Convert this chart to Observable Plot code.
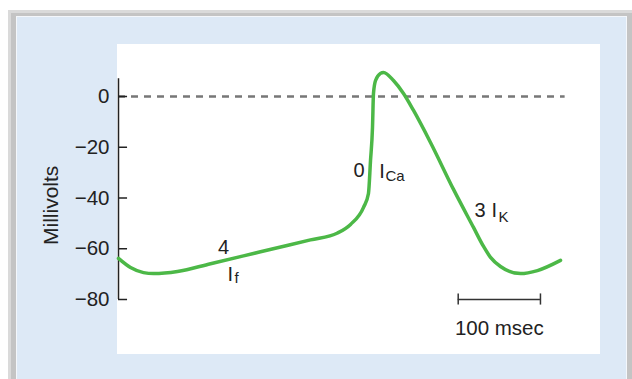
<!DOCTYPE html>
<html><head><meta charset="utf-8">
<script src="https://cdn.jsdelivr.net/npm/d3@7"></script>
<script src="https://cdn.jsdelivr.net/npm/@observablehq/plot@0.6"></script>
<style>
html,body{margin:0;padding:0;background:#fff;width:632px;height:379px;overflow:hidden;}
#frame{position:absolute;left:8px;top:10px;width:624px;height:380px;box-sizing:border-box;background:#c4c4c4;border-left:3px solid #dadada;border-top:3px solid #dadada;}
#panel{position:absolute;left:16px;top:16px;width:611px;height:372px;box-sizing:border-box;border:1px solid #f4f7fb;background:#dde9f6;}
#white{position:absolute;left:117px;top:44px;width:483px;height:310px;background:#fff;}
#chart{position:absolute;left:0;top:0;}
</style>
</head><body>
<div id="frame"></div>
<div id="panel"></div>
<div id="white"></div>
<div id="chart"></div>
<script>
// Time (msec) and membrane potential (mV)
const timeMs = [0, 14.6, 30.4, 42.6, 71.7, 111.9, 152.0, 193.3, 233.4, 266.3, 282.1, 297.9, 303.9, 306.4, 308.8, 310.0, 312.5, 318.5, 322.2, 334.3, 346.5, 358.7, 379.3, 407.3, 431.6, 443.8, 452.3, 464.4, 488.8, 509.4, 537.4];
const millivolts = [-63.8, -67.4, -69.4, -69.8, -69.0, -65.9, -62.8, -59.6, -56.5, -53.8, -50.4, -43.7, -38.2, -25.2, -12.2, 1.2, 6.3, 9.1, 9.5, 6.3, 1.2, -5.5, -18.1, -36.6, -51.6, -59.1, -63.4, -67.0, -69.8, -68.6, -64.6];
const yTicks = [0, -20, -40, -60, -80];
const yAxisTop = 7;
const zeroLineEnd = 543;
const scaleBarStart = 413;
const scaleBarEnd = 513;
const scaleBarLevel = -80;
const scaleBarLabel = "100 msec";
const axisLabel = "Millivolts";
const mainLabels = [
  {text: "0", t: 292.4, v: -29.2},
  {text: "I", t: 320.4, v: -29.6},
  {text: "4", t: 127.7, v: -59.5},
  {text: "I", t: 136.0, v: -70.0},
  {text: "3", t: 439.5, v: -45.1},
  {text: "I", t: 457.0, v: -45.1}
];
const subLabels = [
  {text: "Ca", t: 324.6, v: -31.4},
  {text: "f", t: 141.0, v: -71.6},
  {text: "K", t: 462.0, v: -47.6}
];

const data = timeMs.map((t, i) => ({t, v: millivolts[i]}));
const green = "#4cb847";
const ink = "#222";

const chart = Plot.plot({
  width: 632,
  height: 379,
  marginLeft: 118,
  marginRight: 32,
  marginTop: 70.625,
  marginBottom: 80,
  style: {background: "transparent", fontFamily: "'Liberation Sans', Arial, sans-serif", color: ink, overflow: "visible"},
  x: {domain: [0, 586], axis: null},
  y: {domain: [-80, 10]},
  marks: [
    Plot.ruleY([0], {x1: 0, x2: zeroLineEnd, stroke: "#777", strokeWidth: 2.5, strokeDasharray: "7,6"}),
    Plot.ruleX([0], {y1: scaleBarLevel, y2: yAxisTop, stroke: ink, strokeWidth: 1.5}),
    Plot.ruleY(yTicks, {x1: 0, x2: 11, stroke: ink, strokeWidth: 1.5}),
    Plot.axisY({ticks: yTicks, tickSize: 0, tickPadding: 9, fontSize: 20.5, label: null, tickFormat: d3.format("d")}),
    Plot.text([axisLabel], {frameAnchor: "left", textAnchor: "middle", rotate: -90, dx: -67, dy: 20, fontSize: 21, fill: ink}),
    Plot.line(data, {x: "t", y: "v", curve: "monotone-x", stroke: green, strokeWidth: 3.5}),
    Plot.text(mainLabels, {x: "t", y: "v", text: "text", fontSize: 20, fill: ink, lineAnchor: "middle"}),
    Plot.text(subLabels, {x: "t", y: "v", text: "text", fontSize: 15, fill: ink, textAnchor: "start", lineAnchor: "middle"}),
    Plot.ruleY([scaleBarLevel], {x1: scaleBarStart, x2: scaleBarEnd, stroke: "#333", strokeWidth: 1.5}),
    Plot.ruleX([scaleBarStart, scaleBarEnd], {y1: scaleBarLevel - 2.2, y2: scaleBarLevel + 2.2, stroke: "#333", strokeWidth: 1.5}),
    Plot.text([scaleBarLabel], {x: () => (scaleBarStart + scaleBarEnd) / 2, y: () => scaleBarLevel, dy: 29, fontSize: 20.5, fill: ink, lineAnchor: "middle"})
  ]
});
document.getElementById("chart").appendChild(chart);
</script>
</body></html>
